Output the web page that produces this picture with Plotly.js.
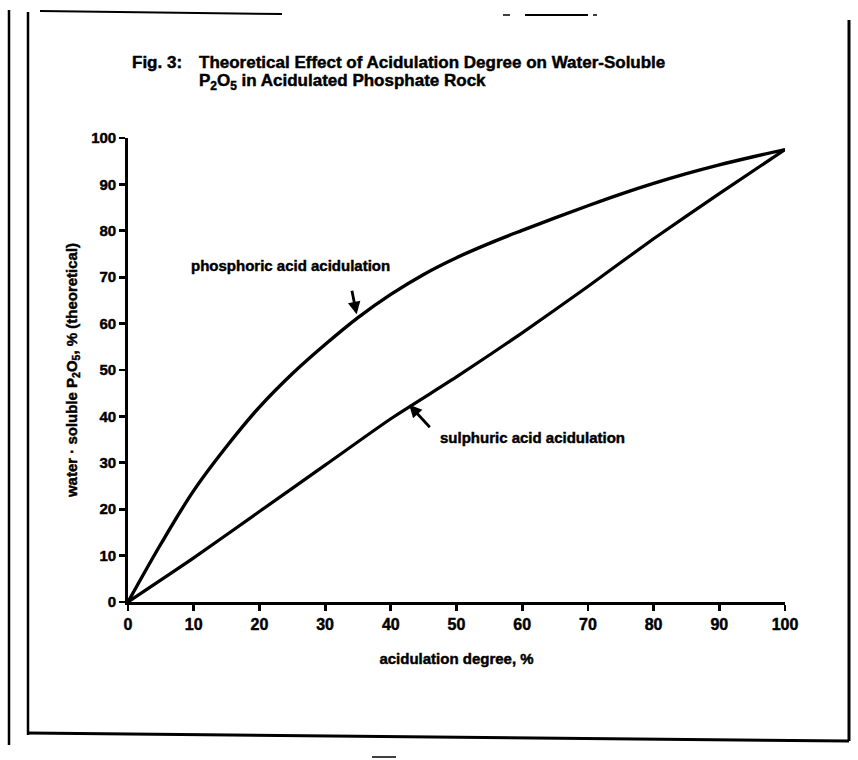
<!DOCTYPE html>
<html>
<head>
<meta charset="utf-8">
<script src="https://cdn.plot.ly/plotly-3.0.1.min.js"></script>
<style>
html,body{margin:0;padding:0;background:#fff;}
#chart{width:858px;height:760px;}
#chart text{stroke:#000;stroke-width:0.45px;}
</style>
</head>
<body>
<div id="chart"></div>
<script>
// ---- data ----
const acidulationDegree = [0, 5, 10, 15, 20, 25, 30, 35, 40, 45, 50, 55, 60, 65, 70, 75, 80, 85, 90, 95, 100];
const phosphoricWSP = [0, 12.5, 24, 33.5, 42, 49.2, 55.5, 61.3, 66.3, 70.6, 74.2, 77.3, 80.1, 82.8, 85.4, 87.9, 90.2, 92.3, 94.2, 95.9, 97.5];
const sulphuricDegree = [0, 10, 20, 30, 40, 50, 60, 70, 80, 90, 100];
const sulphuricWSP = [0, 9.5, 19.5, 29.5, 39.5, 48.5, 58, 68, 78.3, 88, 97.5];
const xTicks = [0, 10, 20, 30, 40, 50, 60, 70, 80, 90, 100];
const yTicks = [0, 10, 20, 30, 40, 50, 60, 70, 80, 90, 100];

const titleFig = 'Fig. 3:';
const titleLine1 = 'Theoretical Effect of Acidulation Degree on Water-Soluble';
const titleLine2 = 'P<sub>2</sub>O<sub>5</sub> in Acidulated Phosphate Rock';
const xTitle = 'acidulation degree, %';
const yTitle = 'water · soluble P<sub>2</sub>O<sub>5</sub>, % (theoretical)';
const phosLabel = 'phosphoric acid acidulation';
const sulphLabel = 'sulphuric acid acidulation';

// ---- layout geometry (pixels) ----
const L = 128, R = 785, T = 138, B = 602, W = 858, H = 760;
const px = p => (p - L) / (R - L);
const py = p => (B - p) / (B - T);
const FONT = 'Liberation Sans, Arial, Helvetica, sans-serif';
const f = s => ({family: FONT, size: s, weight: 'bold', color: '#000'});

function seg(x0, y0, x1, y1, w) {
  return {type: 'line', xref: 'paper', yref: 'paper',
    x0: px(x0), y0: py(y0), x1: px(x1), y1: py(y1),
    line: {color: '#000', width: w}};
}

const traces = [
  {x: acidulationDegree, y: phosphoricWSP, mode: 'lines', type: 'scatter',
   line: {color: '#000', width: 3.4, shape: 'spline', smoothing: 1}, hoverinfo: 'skip'},
  {x: sulphuricDegree, y: sulphuricWSP, mode: 'lines', type: 'scatter',
   line: {color: '#000', width: 3.2, shape: 'spline', smoothing: 0.5}, hoverinfo: 'skip'}
];

const layout = {
  width: W, height: H,
  margin: {l: L, r: W - R, t: T, b: H - B, pad: 0},
  paper_bgcolor: '#fff', plot_bgcolor: '#fff',
  showlegend: false,
  font: f(14),
  xaxis: {
    range: [0, 100], tickvals: xTicks, ticktext: xTicks.map(String),
    showgrid: false, zeroline: false, showline: true, linecolor: '#000', linewidth: 2.8,
    ticks: 'outside', ticklen: 6, tickwidth: 2.8, tickcolor: '#000',
    tickfont: f(16),
    title: {text: xTitle, standoff: 22, font: f(15)}
  },
  yaxis: {
    range: [0, 100], tickvals: yTicks, ticktext: yTicks.map(String),
    showgrid: false, zeroline: false, showline: true, linecolor: '#000', linewidth: 2.8,
    ticks: 'outside', ticklen: 6, tickwidth: 2.8, tickcolor: '#000',
    tickfont: f(15),
    title: {text: yTitle, standoff: 10, font: f(15)}
  },
  shapes: [
    seg(9, 10, 9, 745, 2.5),
    seg(28, 12, 28, 735, 2.5),
    seg(40, 11, 282, 14, 2),
    seg(503, 15, 510, 15, 1.5),
    seg(525, 15, 588, 15, 2),
    seg(593, 15, 597, 15, 1.5),
    seg(849, 20, 849, 741, 3),
    seg(28, 733, 849, 741, 3),
    seg(372, 757, 396, 757, 1.5)
  ],
  annotations: [
    {xref: 'paper', yref: 'paper', x: px(130), y: py(62), xanchor: 'left', yanchor: 'middle',
     text: titleFig, showarrow: false, font: f(17)},
    {xref: 'paper', yref: 'paper', x: px(197), y: py(62), xanchor: 'left', yanchor: 'middle',
     text: titleLine1, showarrow: false, font: f(17)},
    {xref: 'paper', yref: 'paper', x: px(197), y: py(82), xanchor: 'left', yanchor: 'middle',
     text: titleLine2, showarrow: false, font: f(17)},
    {xref: 'paper', yref: 'paper', x: px(189), y: py(265), xanchor: 'left', yanchor: 'middle',
     text: phosLabel, showarrow: false, font: f(15)},
    {xref: 'paper', yref: 'paper', x: px(438), y: py(437), xanchor: 'left', yanchor: 'middle',
     text: sulphLabel, showarrow: false, font: f(15)},
    {xref: 'x', yref: 'y', x: 34.8, y: 62.0, ax: -5, ay: -25, text: '', showarrow: true,
     arrowhead: 2, arrowsize: 0.9, arrowwidth: 2.8, arrowcolor: '#000'},
    {xref: 'x', yref: 'y', x: 42.8, y: 42.5, ax: 22, ay: 24, text: '', showarrow: true,
     arrowhead: 2, arrowsize: 0.9, arrowwidth: 2.8, arrowcolor: '#000'}
  ]
};

Plotly.newPlot('chart', traces, layout, {displayModeBar: false, staticPlot: true});
</script>
</body>
</html>
